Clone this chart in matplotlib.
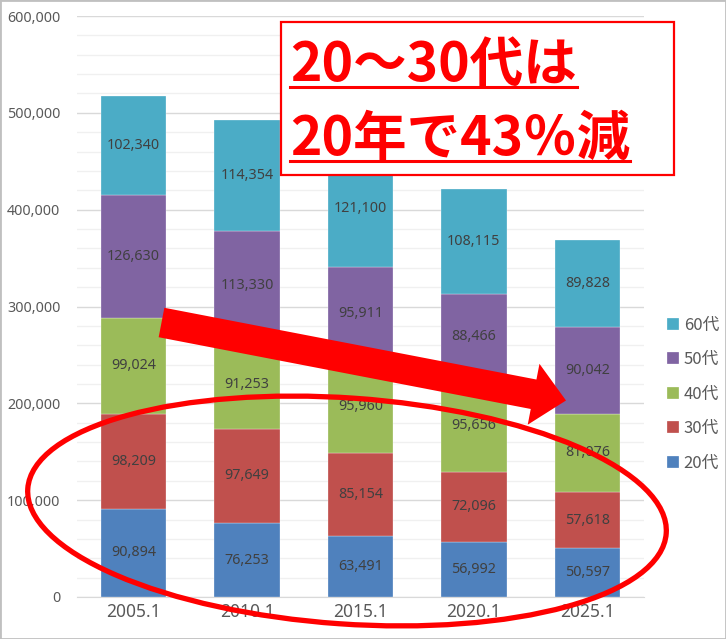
import matplotlib
matplotlib.use('Agg')
import matplotlib.pyplot as plt
from matplotlib.patches import Rectangle, Ellipse, Polygon
from matplotlib.lines import Line2D
from matplotlib.transforms import Affine2D
from matplotlib.ticker import FuncFormatter, MultipleLocator
import numpy as np

# ---- data ----
categories = ['2005.1', '2010.1', '2015.1', '2020.1', '2025.1']
series_names = ['20代', '30代', '40代', '50代', '60代']
v20 = [90894, 76253, 63491, 56992, 50597]
v30 = [98209, 97649, 85154, 72096, 57618]
v40 = [99024, 91253, 95960, 95656, 81076]
v50 = [126630, 113330, 95911, 88466, 90042]
v60 = [102340, 114354, 121100, 108115, 89828]
colors = ['#4F81BD', '#C0504D', '#9BBB59', '#8064A2', '#4BACC6']
note_lines = ['20～30代は', '20年で43％減']

plt.rcParams['font.family'] = ['Noto Sans', 'Noto Sans CJK JP', 'DejaVu Sans']

W, H = 726, 639
fig = plt.figure(figsize=(W / 100, H / 100), dpi=100)
fig.patch.set_facecolor('white')

# pixel (y from top) -> display transform
px = Affine2D().scale(1 / W, -1 / H).translate(0, 1) + fig.transFigure

ax = fig.add_axes([77 / W, 1 - 597 / H, 567 / W, 581 / H])
x = np.arange(len(categories))
series = [v20, v30, v40, v50, v60]
bottom = np.zeros(len(categories))
handles = []
for name, vals, col in zip(series_names, series, colors):
    vals = np.array(vals, dtype=float)
    bars = ax.bar(x, vals, 0.575, bottom=bottom, color=col, label=name, zorder=3,
                  edgecolor='white', linewidth=0.2)
    for xi, b, v in zip(x, bottom, vals):
        ax.text(xi, b + v / 2, f'{int(v):,}', ha='center', va='center',
                fontsize=10.3, color='#404040', zorder=4)
    handles.append(bars)
    bottom += vals

ax.set_xlim(-0.5, len(categories) - 0.5)
ax.set_ylim(0, 600000)
ax.yaxis.set_major_locator(MultipleLocator(100000))
ax.yaxis.set_minor_locator(MultipleLocator(20000))
ax.yaxis.set_major_formatter(FuncFormatter(lambda v, p: f'{int(v):,}'))
ax.grid(axis='y', which='major', color='#d9d9d9', linewidth=1, zorder=0)
ax.grid(axis='y', which='minor', color='#f0f0f0', linewidth=1, zorder=0)
ax.set_axisbelow(True)
for s in ['top', 'right', 'left']:
    ax.spines[s].set_visible(False)
ax.spines['bottom'].set_color('#d9d9d9')
ax.set_xticks(x)
ax.set_xticklabels(categories)
ax.tick_params(axis='both', which='both', length=0)
ax.tick_params(axis='y', labelsize=10.3, labelcolor='#595959', pad=12)
ax.tick_params(axis='x', labelsize=12.5, labelcolor='#595959', pad=4)

# legend
leg = fig.legend(handles[::-1], series_names[::-1], loc='center left',
                 bbox_to_anchor=(652 / W, 1 - 394 / H), frameon=False,
                 handlelength=0.7, handleheight=0.7, handletextpad=0.3,
                 labelspacing=1.05,
                 prop={'family': ['Noto Sans CJK JP'], 'size': 12})
for t in leg.get_texts():
    t.set_color('#595959')

# figure border
fig.patches.append(Rectangle((0, 0), 1, 1, transform=fig.transFigure, fill=False,
                             edgecolor='#c0c0c0', linewidth=2, zorder=0))

# red ellipse
ell = Ellipse((347, 511), 640, 226, angle=4, transform=px, fill=False,
              edgecolor='#ff0000', linewidth=3.8, zorder=10)
fig.patches.append(ell)

# red arrow
tail = np.array([161.5, 322.5])
tip = np.array([566.0, 400.5])
d = tip - tail
L = np.hypot(*d)
u = d / L
n = np.array([-u[1], u[0]])
shaft_w, head_w, head_l = 30.0, 62.0, 33.0
base = tip - u * head_l
verts = [tail + n * shaft_w / 2, base + n * shaft_w / 2, base + n * head_w / 2, tip,
         base - n * head_w / 2, base - n * shaft_w / 2, tail - n * shaft_w / 2]
fig.patches.append(Polygon(verts, closed=True, transform=px, facecolor='#ff0000',
                           edgecolor='none', zorder=11))

# text box
fig.patches.append(Rectangle((281, 22), 393, 153, transform=px, facecolor='white',
                             edgecolor='#ff0000', linewidth=1.6, zorder=12))
baselines = [81, 155]
underlines = [87, 161]
texts = []
for line, yb in zip(note_lines, baselines):
    t = fig.text(290 / W, 1 - yb / H, line, fontsize=38.5, fontweight='bold',
                 color='#ff0000', ha='left', va='baseline',
                 family=['Noto Sans CJK JP', 'DejaVu Sans'], zorder=13)
    texts.append(t)

fig.canvas.draw()
r = fig.canvas.get_renderer()
for t, yu in zip(texts, underlines):
    bb = t.get_window_extent(r)
    x0 = bb.x0 / fig.dpi / fig.get_figwidth() * W
    x1 = bb.x1 / fig.dpi / fig.get_figwidth() * W
    fig.lines.append(Line2D([x0, x1], [yu, yu], transform=px, color='#ff0000',
                            linewidth=2.2, zorder=13))

fig.savefig('out.png', dpi=100)
